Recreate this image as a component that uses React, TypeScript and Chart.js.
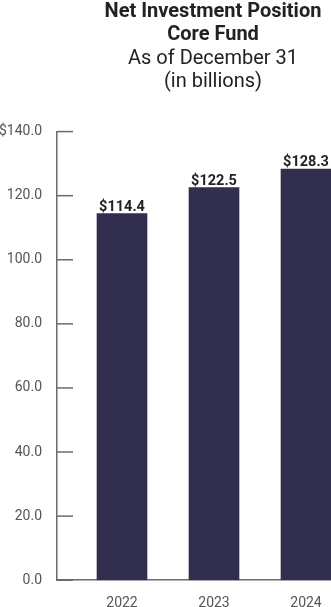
import React, { useEffect, useRef } from 'react';
import { Chart, registerables } from 'chart.js';

Chart.register(...registerables);

const years = ['2022', '2023', '2024'];
const positions = [114.4, 122.5, 128.3];
const yTickLabels = ['0.0', '20.0', '40.0', '60.0', '80.0', '100.0', '120.0', '$140.0'];
const yStep = 20;
const titleLines = ['Net Investment Position', 'Core Fund'];
const subtitleLines = ['As of December 31', '(in billions)'];

const BAR = '#312e4f';
const AXIS = '#6b6b6b';
const TEXT = '#222222';
const TICK_TEXT = '#555555';
const FONT = 'Roboto';

const CANVAS_W = 426;
const CANVAS_H = 627;

export default function App() {
  const ref = useRef<HTMLCanvasElement | null>(null);

  useEffect(() => {
    if (!ref.current) return;

    const innerTicks = {
      id: 'innerTicks',
      afterDraw(chart: any) {
        const y = chart.scales.y;
        const ctx = chart.ctx;
        const left = chart.chartArea.left;
        ctx.save();
        ctx.strokeStyle = AXIS;
        ctx.lineWidth = 1.5;
        y.ticks.forEach((t: any) => {
          const py = y.getPixelForValue(t.value);
          ctx.beginPath();
          ctx.moveTo(left, py);
          ctx.lineTo(left + 16, py);
          ctx.stroke();
        });
        ctx.restore();
      },
    };

    const barLabels = {
      id: 'barLabels',
      afterDatasetsDraw(chart: any) {
        const ctx = chart.ctx;
        const meta = chart.getDatasetMeta(0);
        ctx.save();
        ctx.font = `bold 14.5px ${FONT}`;
        ctx.fillStyle = TEXT;
        ctx.textAlign = 'center';
        ctx.textBaseline = 'alphabetic';
        meta.data.forEach((bar: any, i: number) => {
          ctx.fillText('$' + positions[i].toFixed(1), bar.x, bar.y - 3);
        });
        ctx.restore();
      },
    };

    const pxPerUnit = 92;
    const leftPx = 57;
    const firstCenterPx = 122;
    const areaWidth = CANVAS_W - leftPx;
    const xMin = -(firstCenterPx - leftPx) / pxPerUnit;
    const xMax = xMin + areaWidth / pxPerUnit;

    const chart = new Chart(ref.current, {
      type: 'bar',
      data: {
        datasets: [
          {
            data: positions.map((v, i) => ({ x: i, y: v })),
            backgroundColor: BAR,
            barThickness: 50,
          },
        ],
      },
      options: {
        animation: false,
        responsive: true,
        maintainAspectRatio: false,
        layout: { padding: 0 },
        plugins: {
          legend: { display: false },
          tooltip: { enabled: false },
          title: {
            display: true,
            text: titleLines,
            color: TEXT,
            font: { family: FONT, size: 20, weight: 'bold', lineHeight: 1.17 },
            padding: { top: 0, bottom: 0 },
          },
          subtitle: {
            display: true,
            text: subtitleLines,
            color: TEXT,
            font: { family: FONT, size: 20, weight: 'normal', lineHeight: 1.17 },
            padding: { top: 0, bottom: 38 },
          },
        },
        scales: {
          x: {
            type: 'linear',
            min: xMin,
            max: xMax,
            offset: false,
            afterBuildTicks: (scale: any) => {
              scale.ticks = years.map((_, i) => ({ value: i }));
            },
            ticks: {
              callback: (v: any) => years[Math.round(Number(v))] ?? '',
              color: TICK_TEXT,
              font: { family: FONT, size: 14 },
              padding: 15,
              maxRotation: 0,
            },
            grid: { display: false, drawTicks: false },
            border: { display: true, color: AXIS, width: 1.5 },
          },
          y: {
            min: 0,
            max: (yTickLabels.length - 1) * yStep,
            afterBuildTicks: (scale: any) => {
              scale.ticks = yTickLabels.map((_, i) => ({ value: i * yStep }));
            },
            afterFit: (scale: any) => {
              scale.width = leftPx;
            },
            ticks: {
              callback: (_v: any, i: number) => yTickLabels[i],
              color: TICK_TEXT,
              font: { family: FONT, size: 14 },
              padding: 15,
            },
            grid: { display: false, drawTicks: false },
            border: { display: true, color: AXIS, width: 1.5 },
          },
        },
      },
      plugins: [innerTicks, barLabels],
    });

    return () => chart.destroy();
  }, []);

  return (
    <div
      style={{
        position: 'fixed',
        left: 0,
        top: 0,
        width: 331,
        height: 607,
        overflow: 'hidden',
        background: '#ffffff',
      }}
    >
      <div style={{ position: 'relative', width: CANVAS_W, height: CANVAS_H }}>
        <canvas ref={ref} />
      </div>
    </div>
  );
}
